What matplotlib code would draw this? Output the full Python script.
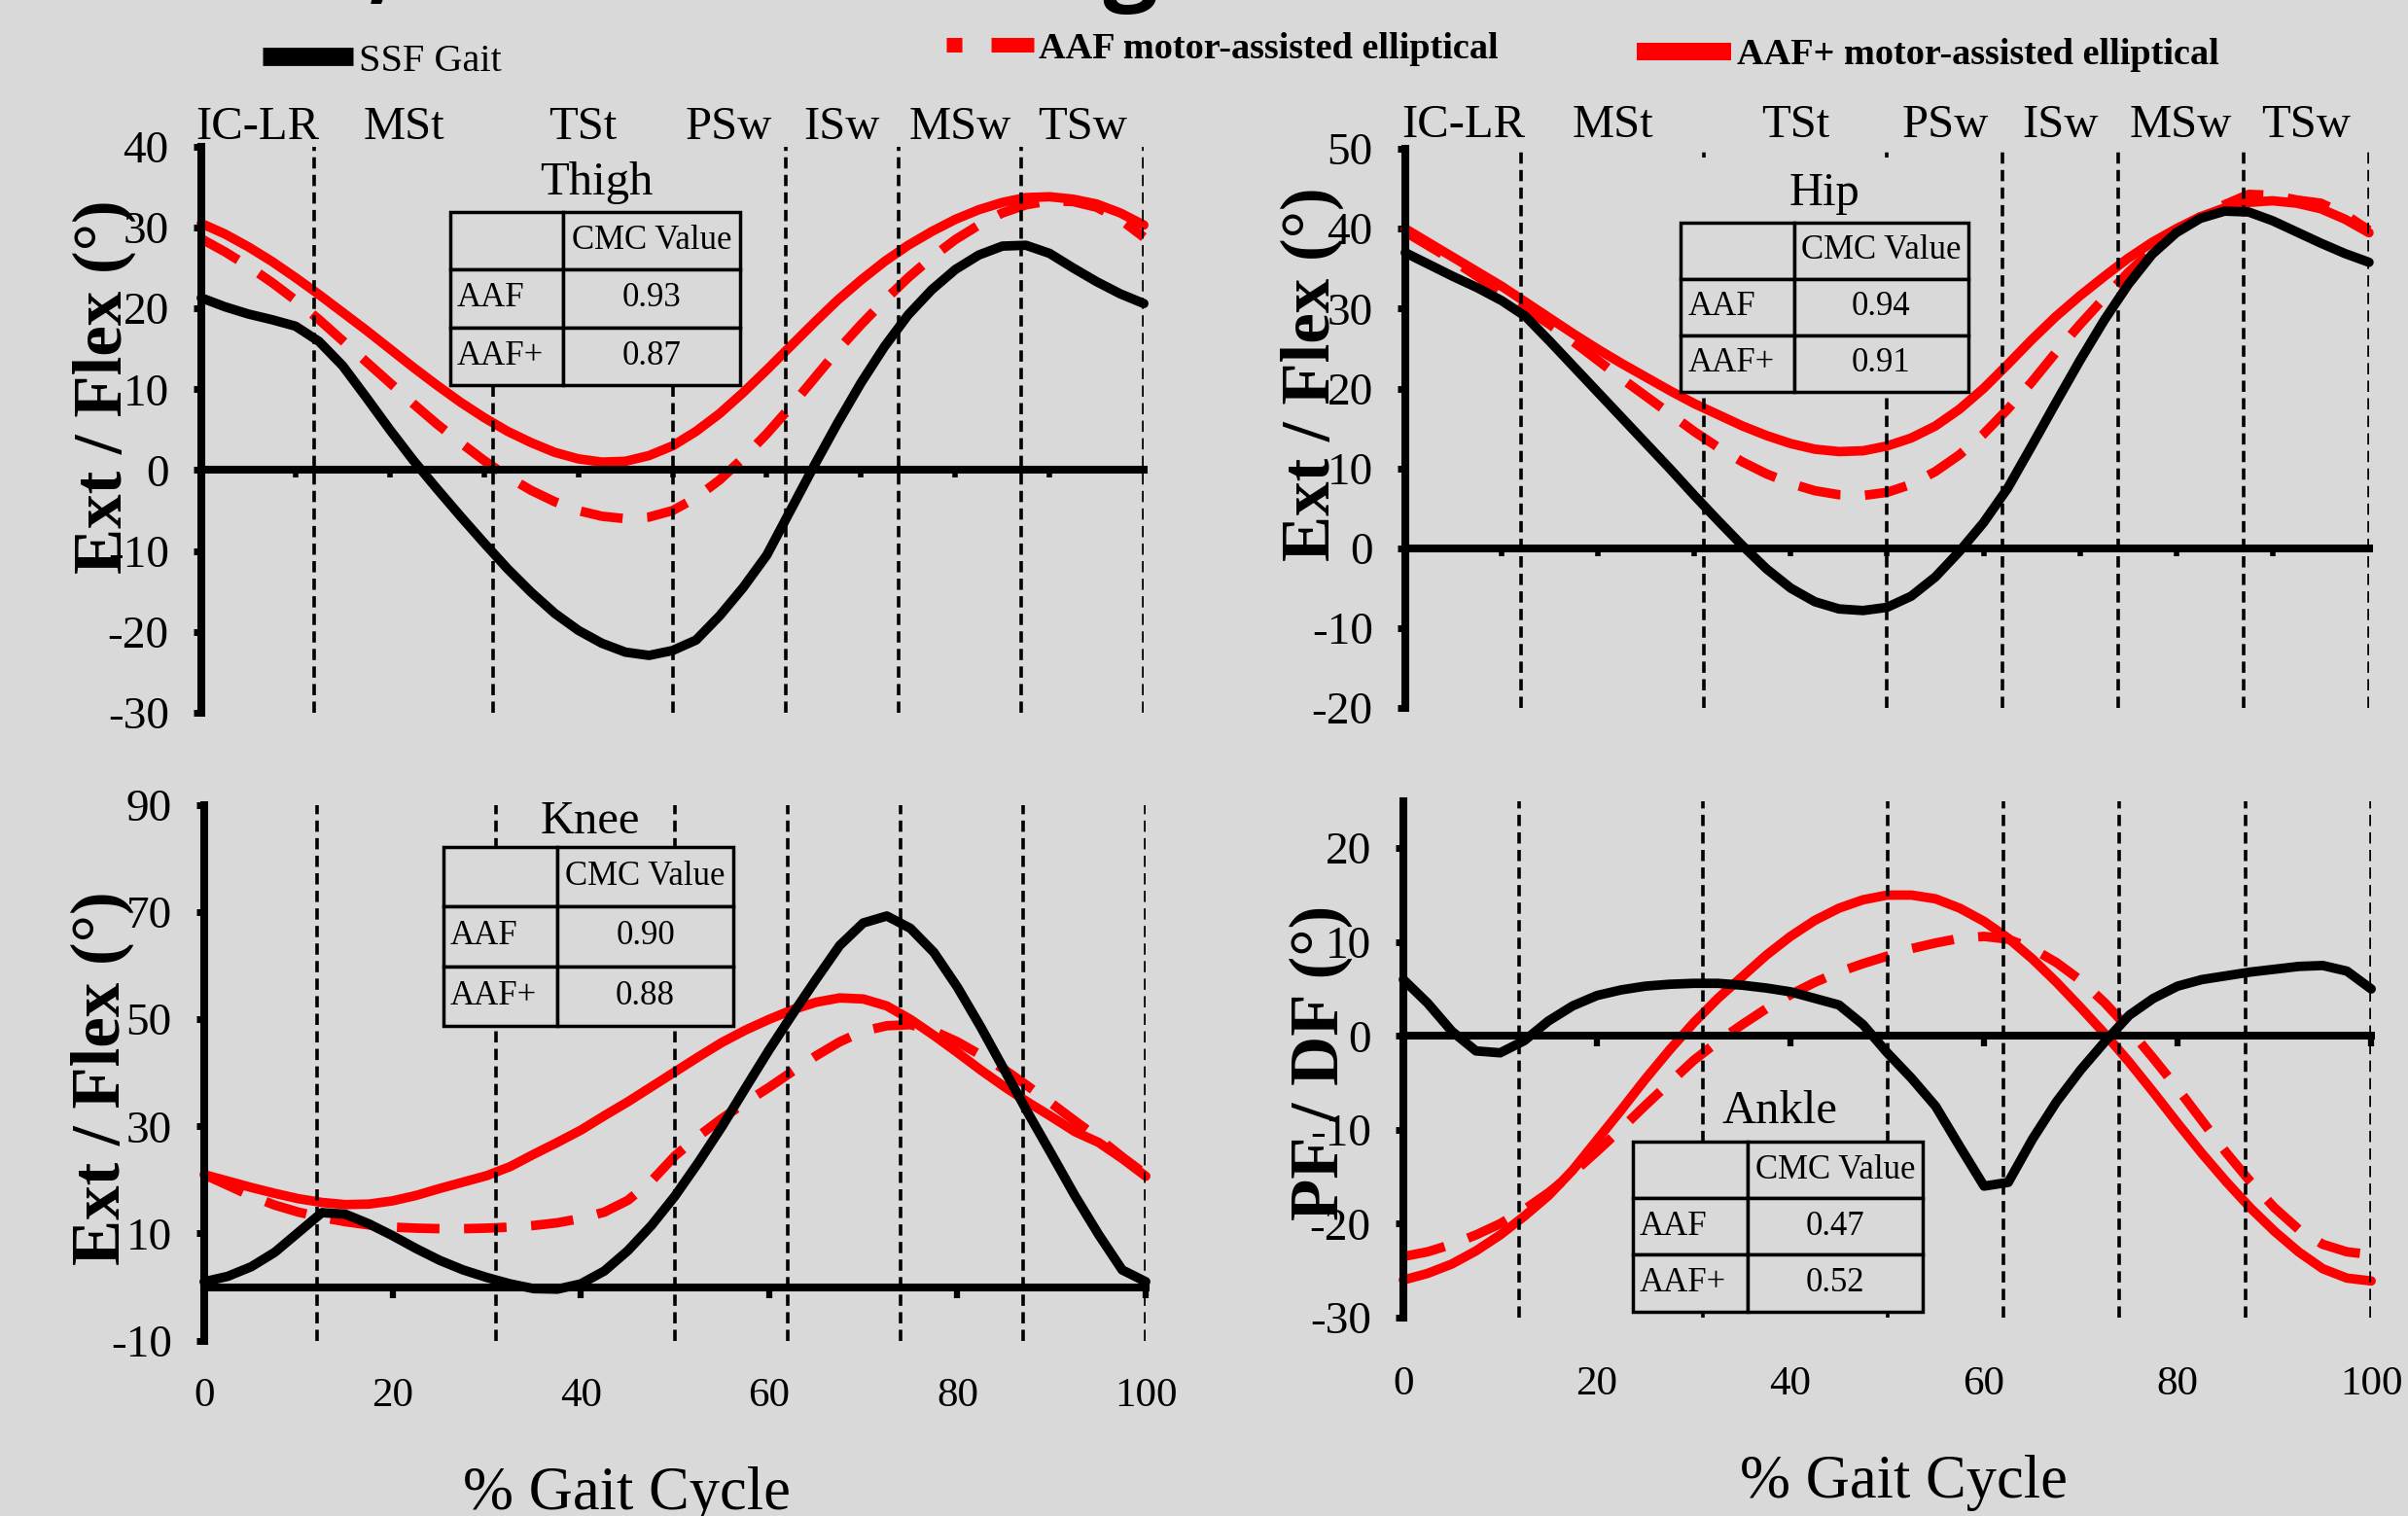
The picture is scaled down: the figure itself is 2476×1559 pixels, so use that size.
import matplotlib
matplotlib.use("Agg")
import matplotlib.pyplot as plt
from matplotlib.lines import Line2D
from matplotlib.patches import Rectangle
import matplotlib.transforms as mtransforms

# ---------------- data ----------------
pct = [0, 2.5, 5, 7.5, 10, 12.5, 15, 17.5, 20, 22.5, 25, 27.5, 30, 32.5, 35, 37.5,
       40, 42.5, 45, 47.5, 50, 52.5, 55, 57.5, 60, 62.5, 65, 67.5, 70, 72.5, 75,
       77.5, 80, 82.5, 85, 87.5, 90, 92.5, 95, 97.5, 100]

thigh_ssf = [21.3, 20.2, 19.3, 18.6, 17.8, 15.9, 12.9, 9.0, 5.0, 1.2, -2.3, -5.7, -9.0,
             -12.2, -15.1, -17.7, -19.8, -21.4, -22.5, -22.9, -22.3, -21.0, -18.0, -14.5,
             -10.5, -5.0, 0.5, 5.8, 10.8, 15.3, 19.2, 22.3, 24.8, 26.6, 27.7, 27.8, 26.8,
             25.0, 23.3, 21.8, 20.6]
thigh_aaf = [28.6, 27.0, 25.2, 23.2, 21.0, 18.6, 16.0, 13.4, 10.8, 8.2, 5.7, 3.4, 1.2,
             -0.8, -2.5, -3.9, -5.0, -5.7, -6.0, -5.8, -5.0, -3.4, -1.2, 1.5, 4.5, 7.8,
             11.3, 14.8, 18.0, 21.0, 23.8, 26.3, 28.5, 30.3, 31.8, 32.8, 33.3, 33.2, 32.5,
             31.0, 28.8]
thigh_aafp = [30.5, 29.2, 27.6, 25.8, 23.8, 21.7, 19.5, 17.3, 15.0, 12.7, 10.5, 8.4, 6.5,
              4.8, 3.4, 2.2, 1.4, 1.0, 1.1, 1.8, 3.0, 4.8, 7.0, 9.6, 12.4, 15.3, 18.2, 21.0,
              23.5, 25.8, 27.8, 29.5, 31.0, 32.2, 33.1, 33.7, 33.8, 33.5, 32.9, 31.8, 30.3]

hip_ssf = [37.0, 35.5, 34.0, 32.6, 31.0, 29.0, 25.9, 22.7, 19.5, 16.3, 13.1, 9.9, 6.6, 3.4,
           0.3, -2.6, -5.0, -6.7, -7.6, -7.8, -7.4, -6.0, -3.6, -0.4, 3.2, 7.5, 12.8, 18.2,
           23.5, 28.5, 33.0, 36.8, 39.5, 41.3, 42.2, 42.1, 41.0, 39.6, 38.2, 36.9, 35.8]
hip_aaf = [39.6, 37.8, 36.0, 34.0, 32.0, 30.0, 28.0, 25.8, 23.5, 21.2, 19.0, 16.8, 14.6,
           12.6, 10.8, 9.3, 8.1, 7.2, 6.7, 6.6, 7.0, 8.0, 9.6, 11.7, 14.3, 17.4, 20.8, 24.5,
           28.0, 31.3, 34.5, 37.3, 39.6, 41.5, 43.0, 44.3, 44.2, 43.6, 43.2, 41.8, 39.8]
hip_aafp = [40.0, 38.2, 36.4, 34.6, 32.8, 30.8, 28.8, 26.8, 24.9, 23.1, 21.4, 19.7, 18.1,
            16.7, 15.3, 14.1, 13.1, 12.4, 12.1, 12.2, 12.8, 13.8, 15.3, 17.4, 20.0, 23.0,
            26.1, 29.0, 31.6, 34.0, 36.3, 38.3, 40.0, 41.5, 42.6, 43.3, 43.5, 43.2, 42.5,
            41.2, 39.5]

knee_ssf = [1.0, 2.0, 3.8, 6.5, 10.2, 13.9, 13.6, 11.8, 9.6, 7.2, 5.0, 3.2, 1.8, 0.6, -0.3,
            -0.4, 0.6, 3.0, 6.8, 11.5, 17.0, 23.3, 30.0, 37.2, 44.3, 51.0, 57.5, 63.8, 68.0,
            69.3, 67.0, 62.5, 56.0, 48.5, 40.5, 32.5, 24.8, 17.0, 9.8, 3.2, 1.0]
knee_aaf = [21.0, 19.0, 17.0, 15.3, 14.0, 13.0, 12.2, 11.6, 11.2, 11.0, 10.9, 10.9, 11.0,
            11.2, 11.5, 12.0, 12.8, 14.0, 16.2, 19.8, 24.5, 28.2, 31.5, 34.5, 37.3, 40.3,
            43.2, 45.8, 47.8, 48.8, 49.0, 47.8, 45.8, 43.3, 40.6, 37.5, 34.3, 31.0, 27.8,
            24.3, 21.0]
knee_aafp = [21.0, 19.8, 18.6, 17.5, 16.5, 15.8, 15.4, 15.5, 16.1, 17.1, 18.4, 19.6, 20.8,
             22.5, 24.8, 27.0, 29.3, 32.0, 34.6, 37.4, 40.2, 43.0, 45.7, 48.0, 50.0, 51.8,
             53.2, 54.0, 53.8, 52.5, 50.0, 47.0, 43.8, 40.5, 37.4, 34.5, 31.8, 29.0, 27.0,
             24.0, 20.7]

ankle_ssf = [6.0, 3.5, 0.5, -1.6, -1.8, -0.5, 1.6, 3.2, 4.3, 4.9, 5.3, 5.5, 5.6, 5.6, 5.4,
             5.1, 4.7, 4.0, 3.3, 1.2, -1.8, -4.5, -7.5, -11.8, -16.0, -15.6, -11.0, -7.0,
             -3.6, -0.6, 2.2, 4.0, 5.3, 6.0, 6.4, 6.8, 7.1, 7.4, 7.5, 6.9, 5.0]
ankle_aaf = [-23.5, -23.0, -22.2, -21.2, -20.0, -18.5, -16.7, -14.6, -12.3, -9.9, -7.4,
             -5.0, -2.6, -0.6, 1.2, 2.9, 4.4, 5.7, 6.8, 7.7, 8.5, 9.3, 9.9, 10.4, 10.6, 10.3,
             9.3, 7.8, 5.9, 3.5, 0.7, -2.4, -5.6, -9.0, -12.4, -15.5, -18.3, -20.6, -22.2,
             -23.0, -23.3]
ankle_aafp = [-26.0, -25.3, -24.3, -22.9, -21.2, -19.2, -17.0, -14.3, -11.1, -7.9, -4.6,
              -1.5, 1.4, 4.0, 6.3, 8.6, 10.6, 12.3, 13.6, 14.5, 15.0, 15.0, 14.6, 13.6,
              12.2, 10.4, 8.2, 5.7, 3.0, 0.2, -2.8, -6.0, -9.3, -12.5, -15.5, -18.3, -20.8,
              -23.0, -24.8, -25.8, -26.1]

phase_bounds = [12, 31, 50, 62, 74, 87, 100]
phase_names = ["IC-LR", "MSt", "TSt", "PSw", "ISw", "MSw", "TSw"]

cmc_rows = ["AAF", "AAF+"]
cmc_header = "CMC Value"
thigh_cmc = ["0.93", "0.87"]
hip_cmc = ["0.94", "0.91"]
knee_cmc = ["0.90", "0.88"]
ankle_cmc = ["0.47", "0.52"]

series_labels = ["SSF Gait", "AAF motor-assisted elliptical", "AAF+ motor-assisted elliptical"]

# ---------------- style ----------------
BG = "#d9d9d9"
SERIF = "Liberation Serif"
plt.rcParams["font.family"] = [SERIF, "DejaVu Serif"]
plt.rcParams["axes.unicode_minus"] = False

W, H = 2476, 1559
fig = plt.figure(figsize=(W / 100, H / 100), dpi=100)
fig.patch.set_facecolor(BG)

panels = [
    dict(title="Thigh", rect=[0.0836, 0.5298, 0.3914, 0.3735], ylim=(-30, 40),
         yticks=[-30, -20, -10, 0, 10, 20, 30, 40], ssf=thigh_ssf, aaf=thigh_aaf,
         aafp=thigh_aafp, cmc=thigh_cmc, title_xy=(0.419, 0.915),
         tbox=[0.264, 0.579, 0.3075, 0.306], col1=0.389, cover=1.0, title_bg=False,
         ylabel="Ext / Flex (°)", ylabel_xy=(-0.103, 0.576), bottom=False, phase_y=1.014),
    dict(title="Hip", rect=[0.5836, 0.5330, 0.4002, 0.3688], ylim=(-20, 50),
         yticks=[-20, -10, 0, 10, 20, 30, 40, 50], ssf=hip_ssf, aaf=hip_aaf,
         aafp=hip_aafp, cmc=hip_cmc, title_xy=(0.435, 0.900),
         tbox=[0.286, 0.566, 0.298, 0.302], col1=0.395, cover=0.985, title_bg=False,
         ylabel="Ext / Flex (°)", ylabel_xy=(-0.097, 0.597), bottom=False, phase_y=1.021),
    dict(title="Knee", rect=[0.0848, 0.1157, 0.3910, 0.3532], ylim=(-10, 90),
         yticks=[-10, 10, 30, 50, 70, 90], ssf=knee_ssf, aaf=knee_aaf,
         aafp=knee_aafp, cmc=knee_cmc, title_xy=(0.410, 0.947),
         tbox=[0.254, 0.588, 0.308, 0.334], col1=0.393, cover=None, title_bg=False,
         ylabel="Ext / Flex (°)", ylabel_xy=(-0.108, 0.491), bottom=True,
         xpad=59, xlabel_xy=(0.449, -0.315)),
    dict(title="Ankle", rect=[0.5828, 0.1309, 0.4019, 0.3406], ylim=(-30, 25),
         yticks=[-30, -20, -10, 0, 10, 20], ssf=ankle_ssf, aaf=ankle_aaf,
         aafp=ankle_aafp, cmc=ankle_cmc, title_xy=(0.389, 0.377),
         tbox=[0.237, 0.0117, 0.2995, 0.329], col1=0.396, cover=None, title_bg=True,
         ylabel="PF / DF (°)", ylabel_xy=(-0.085, 0.493), bottom=True,
         xpad=236, xlabel_xy=(0.517, -0.348)),
]

LW = 7
for p in panels:
    ax = fig.add_axes(p["rect"])
    ax.set_facecolor(BG)
    ax.set_xlim(0, 100)
    ax.set_ylim(*p["ylim"])
    ax.set_yticks(p["yticks"])
    for s in ("top", "right"):
        ax.spines[s].set_visible(False)
    ax.spines["left"].set_linewidth(5.8)
    ax.spines["bottom"].set_linewidth(5.8)
    ax.spines["bottom"].set_position(("data", 0))
    ax.spines["bottom"].set_zorder(2.5)
    ax.tick_params(axis="y", direction="out", length=6, width=5, labelsize=34, pad=18)

    if p["bottom"]:
        ax.set_xticks([0, 20, 40, 60, 80, 100])
        ax.tick_params(axis="x", direction="out", length=8, width=4.5, labelsize=31,
                       pad=p["xpad"])
        ax.set_xlabel("% Gait Cycle", fontsize=45)
        ax.xaxis.set_label_coords(*p["xlabel_xy"])
        ax.xaxis.label.set_va("baseline")
    else:
        ax.set_xticks(list(range(10, 100, 10)))
        ax.tick_params(axis="x", direction="out", length=6, width=4, labelbottom=False)
        trans = mtransforms.blended_transform_factory(ax.transData, ax.transAxes)
        starts = [0] + phase_bounds[:-1]
        for a, b, name in zip(starts, phase_bounds, phase_names):
            ax.text((a + b) / 2, p["phase_y"], name, transform=trans, ha="center",
                    va="baseline", fontsize=35)

    ax.set_ylabel(p["ylabel"], fontsize=51, fontweight="bold")
    ax.yaxis.set_label_coords(*p["ylabel_xy"])
    ax.yaxis.label.set_va("center")

    # curves
    ax.plot(pct, p["aafp"], color="red", lw=LW, solid_capstyle="round",
            solid_joinstyle="round", zorder=2, clip_on=False)
    ax.plot(pct, p["aaf"], color="red", lw=LW, linestyle=(0, (4.5, 2.6)),
            dash_capstyle="butt", dash_joinstyle="round", zorder=2, clip_on=False)
    ax.plot(pct, p["ssf"], color="black", lw=LW, solid_capstyle="round",
            solid_joinstyle="round", zorder=2.2, clip_on=False)

    # phase boundaries
    for b in phase_bounds:
        ax.axvline(b, color="black", lw=2.6, linestyle=(0, (3.2, 1.8)), zorder=3)

    # table
    bx, by, bw, bh = p["tbox"]
    if p["cover"] is not None:
        ax.add_patch(Rectangle((bx, by + bh), bw, p["cover"] - (by + bh),
                               transform=ax.transAxes, facecolor=BG, edgecolor="none",
                               zorder=4))
    cell_text = [["", cmc_header]] + [[r, v] for r, v in zip(cmc_rows, p["cmc"])]
    tbl = ax.table(cellText=cell_text, bbox=p["tbox"], colWidths=[p["col1"], 1 - p["col1"]],
                   cellLoc="center")
    tbl.set_zorder(5)
    tbl.auto_set_font_size(False)
    tbl.set_fontsize(25)
    for (r, c), cell in tbl.get_celld().items():
        cell.set_facecolor(BG)
        cell.set_edgecolor("black")
        cell.set_linewidth(2.5)
        cell.get_text().set_fontfamily(SERIF)
        if c == 0:
            cell.PAD = 0.06
            cell.set_text_props(ha="left")

    tkw = dict(transform=ax.transAxes, ha="center", va="baseline", fontsize=35, zorder=6)
    if p["title_bg"]:
        tkw["bbox"] = dict(facecolor=BG, edgecolor="none", pad=3)
    ax.text(p["title_xy"][0], p["title_xy"][1], p["title"], **tkw)

# ---------------- legend ----------------
h_ssf = Line2D([], [], color="black", lw=13.5, solid_capstyle="butt")
h_aaf = Line2D([], [], color="red", lw=10.8, linestyle=(0, (1.07, 2.0, 3.1, 2.0)),
               dash_capstyle="butt")
h_aafp = Line2D([], [], color="red", lw=13.0, solid_capstyle="butt")
leg_specs = [
    (h_ssf, series_labels[0], (270 / W, 1 - 63 / H), 2.3, "normal", 29),
    (h_aaf, series_labels[1], (973 / W, 1 - 50 / H), 2.35, "bold", 27.5),
    (h_aafp, series_labels[2], (1683 / W, 1 - 57 / H), 2.55, "bold", 27.5),
]
for h, lab, anchor, hl, wt, fs in leg_specs:
    fig.legend(handles=[h], labels=[lab], loc="center left", bbox_to_anchor=anchor,
               frameon=False, handlelength=hl, handletextpad=0.15, borderpad=0,
               borderaxespad=0, prop=dict(family=SERIF, size=fs, weight=wt))

# title (mostly cropped above the figure edge, as in the source image)
fig.text(407 / W, 1 + 9 / H, "Kinematics,", ha="right", va="baseline", fontsize=72,
         fontweight="bold", family="Open Sans")
fig.text(1191 / W, 1 + 9 / H, "Walking", ha="right", va="baseline", fontsize=72,
         fontweight="bold", family="Open Sans")

fig.savefig("out.png", dpi=100, facecolor=BG)
